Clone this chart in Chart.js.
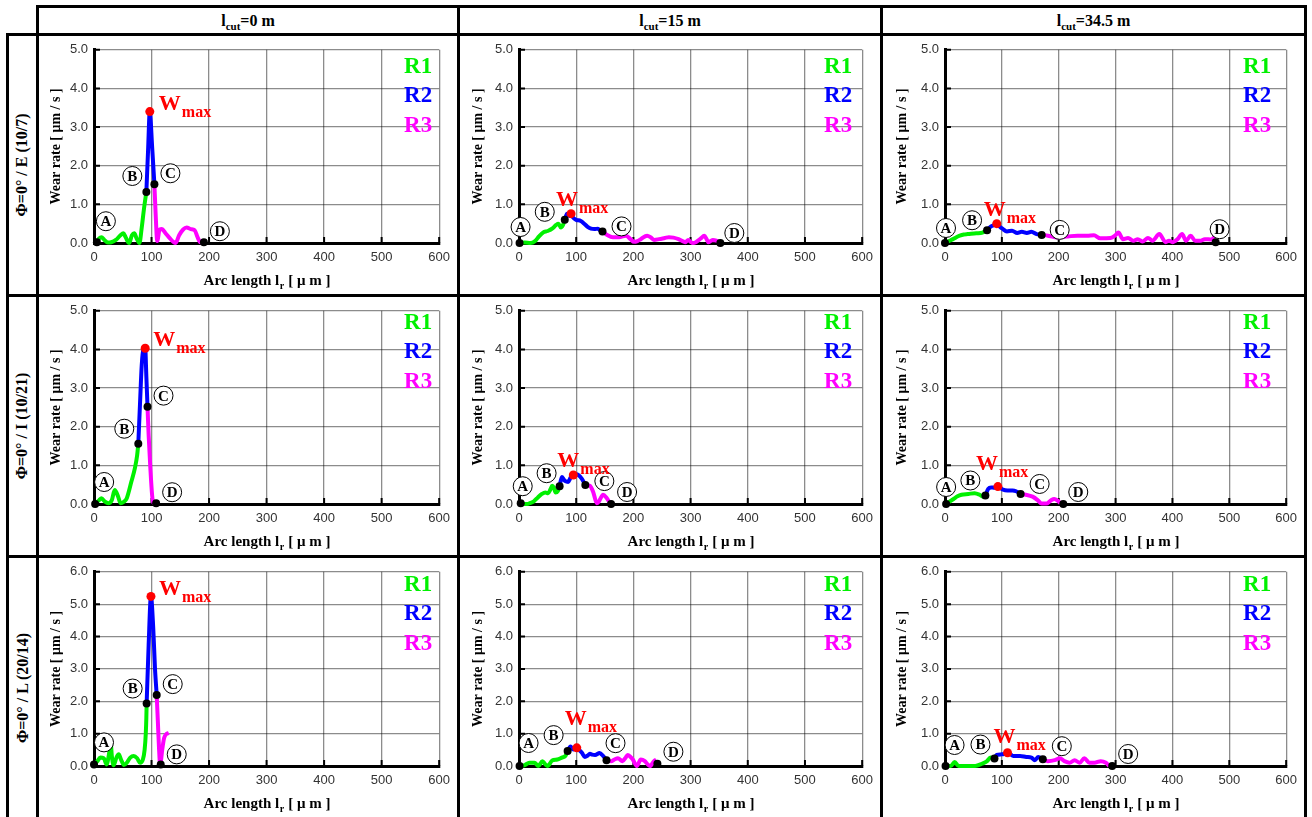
<!DOCTYPE html>
<html>
<head>
<meta charset="utf-8">
<script src="https://cdn.jsdelivr.net/npm/chart.js@4.4.0/dist/chart.umd.min.js"></script>
<style>
  body { margin: 0; background: #fff; width: 1312px; height: 817px; position: relative; overflow: hidden; font-family: 'Liberation Serif', 'Times New Roman', serif; }
  canvas { position: absolute; }
  .ln { position: absolute; background: #000; z-index: 5; }
  .hd { position: absolute; top: 8px; height: 25px; line-height: 25px; text-align: center; font-weight: bold; font-size: 16px; }
  .hd sub { font-size: 11px; vertical-align: -4px; line-height: 0; }
  .rh { position: absolute; height: 28px; line-height: 28px; text-align: center; font-weight: bold; font-size: 16px; transform: rotate(-90deg); white-space: nowrap; }
</style>
</head>
<body>
<script>
// axis / label text
const xTicks = [0, 100, 200, 300, 400, 500, 600];
const yMaxByRow = [5, 5, 6];
const colCut = ['0', '15', '34.5'];
const rowNames = ['Φ=0° / E (10/7)', 'Φ=0° / I (10/21)', 'Φ=0° / L (20/14)'];
const pointNames = ['A', 'B', 'C', 'D'];
const legendNames = ['R1', 'R2', 'R3'];

// --- row E (10/7) ---
const E0_r1 = [[5,0.02],[9,0.12],[13,0.15],[18,0.08],[24,0.01],[30,0.02],[38,0.08],[46,0.2],[51,0.25],[55,0.15],[61,0.0],[66,0.2],[70,0.25],[74,0.12],[79,0.0],[83,0.4],[87,0.9],[91,1.32]];
const E0_r2 = [[91,1.32],[94,2.4],[97,3.4],[101,2.5],[105,1.52]];
const E0_r3 = [[105,1.52],[107,0.8],[110,0.05],[114,0.35],[118,0.36],[124,0.26],[132,0.12],[138,0.03],[142,0.0],[148,0.2],[155,0.35],[161,0.4],[168,0.36],[175,0.33],[180,0.15],[185,0.02],[191,0.02]];
const E0_pts = [[5,0.02],[91,1.32],[105,1.52],[191,0.02]];
const E0_wmax = [97,3.4];

const E15_r1 = [[1,0],[10,0.01],[20,0.0],[28,0.05],[35,0.17],[42,0.27],[50,0.31],[58,0.37],[65,0.47],[69,0.5],[73,0.4],[77,0.47],[80,0.6]];
const E15_r2 = [[80,0.6],[84,0.76],[88,0.7],[91,0.76],[95,0.65],[100,0.6],[108,0.57],[114,0.5],[120,0.42],[126,0.37],[132,0.36],[138,0.37],[142,0.32],[146,0.3]];
const E15_r3 = [[146,0.3],[155,0.2],[164,0.15],[175,0.15],[187,0.19],[195,0.1],[201,0.03],[207,0.05],[213,0.1],[224,0.19],[230,0.15],[236,0.08],[245,0.1],[255,0.13],[262,0.15],[270,0.14],[279,0.1],[286,0.05],[291,0.02],[296,0.08],[300,0.03],[304,0.0],[309,0.02],[313,0.06],[318,0.12],[324,0.19],[328,0.1],[331,0.02],[335,0.05],[339,0.08],[345,0.06],[350,0.02]];
const E15_pts = [[1,0],[80,0.6],[146,0.3],[352,0]];
const E15_wmax = [91,0.76];

const E345_r1 = [[0,0],[7,0.05],[14,0.1],[20,0.15],[26,0.19],[33,0.22],[40,0.23],[55,0.25],[66,0.27],[74,0.33]];
const E345_r2 = [[74,0.33],[81,0.43],[86,0.46],[91,0.5],[96,0.43],[101,0.37],[109,0.3],[118,0.32],[127,0.26],[135,0.29],[144,0.26],[152,0.29],[161,0.23],[170,0.21]];
const E345_r3 = [[170,0.21],[181,0.19],[190,0.16],[199,0.14],[208,0.16],[216,0.17],[233,0.19],[250,0.19],[262,0.2],[273,0.12],[291,0.13],[299,0.19],[305,0.27],[313,0.1],[322,0.13],[331,0.06],[339,0.1],[348,0.04],[357,0.13],[365,0.06],[377,0.23],[388,0.02],[394,0.06],[400,0.02],[409,0.1],[417,0.23],[424,0.06],[432,0.19],[440,0.06],[449,0.06],[457,0.1],[469,0.09],[475,0.19]];
const E345_pts = [[0,0],[74,0.33],[170,0.21],[476,0.02]];
const E345_wmax = [91,0.5];

// --- row I (10/21) ---
const I0_r1 = [[2,0],[9,0.1],[13,0.15],[19,0.06],[25,0.02],[31,0.1],[36,0.36],[42,0.19],[46,0.02],[52,0.06],[57,0.15],[65,0.58],[71,0.92],[75,1.26],[77,1.56]];
const I0_r2 = [[77,1.56],[80,2.6],[83,3.6],[86,4.0],[89,4.03],[91,3.3],[93,2.52]];
const I0_r3 = [[93,2.52],[95,1.78],[98,0.92],[101,0.23],[103,0.03],[106,0.02]];
const I0_pts = [[2,0],[77,1.56],[93,2.52],[108,0.02]];
const I0_wmax = [89,4.03];

const I15_r1 = [[3,0.02],[8,0.0],[14,0.0],[20,0.03],[26,0.07],[33,0.17],[40,0.26],[46,0.3],[51,0.28],[55,0.38],[58,0.47],[61,0.42],[64,0.3],[68,0.34],[71,0.46]];
const I15_r2 = [[71,0.46],[75,0.7],[78,0.64],[81,0.59],[86,0.57],[90,0.68],[95,0.75],[100,0.77],[104,0.75],[110,0.65],[116,0.49]];
const I15_r3 = [[116,0.49],[124,0.47],[130,0.3],[136,0.02],[139,0.05],[142,0.13],[147,0.24],[153,0.16],[159,0.02]];
const I15_pts = [[3,0.02],[71,0.46],[116,0.49],[161,0]];
const I15_wmax = [95,0.75];

const I345_r1 = [[2,0],[8,0.06],[15,0.13],[22,0.2],[29,0.24],[41,0.26],[52,0.28],[61,0.24],[67,0.19],[71,0.22]];
const I345_r2 = [[71,0.22],[76,0.39],[81,0.43],[87,0.42],[93,0.45],[102,0.37],[110,0.35],[119,0.35],[125,0.33],[133,0.26]];
const I345_r3 = [[133,0.26],[142,0.24],[154,0.19],[163,0.1],[170,0.01],[178,0.01],[186,0.09],[192,0.13],[198,0.09],[203,0.02]];
const I345_pts = [[2,0],[71,0.22],[133,0.26],[208,0]];
const I345_wmax = [93,0.45];

// --- row L (20/14) ---
const L0_r1 = [[0,0.05],[6,0.15],[11,0.26],[17,0.24],[22,0.05],[26,0.36],[29,0.72],[31,0.31],[34,0.02],[39,0.26],[43,0.36],[47,0.2],[52,0.03],[57,0.1],[63,0.26],[69,0.31],[75,0.24],[80,0.1],[85,0.2],[88,0.5],[90,1.0],[91,1.5],[91.5,1.93]];
const L0_r2 = [[91.5,1.93],[95,3.74],[99,5.24],[103,4.25],[106,3.02],[109,2.19]];
const L0_r3 = [[109,2.19],[111,1.38],[113,0.56],[115,0.05],[119,0.56],[122,0.87],[126,0.99],[130,1.02]];
const L0_pts = [[0,0.05],[91.5,1.93],[109,2.19],[116,0.05]];
const L0_wmax = [99,5.24];

const L15_r1 = [[1,0],[10,0.03],[18,0.1],[23,0.1],[27,0.1],[34,0.0],[41,0.15],[46,0.05],[50,0.0],[58,0.17],[67,0.2],[75,0.26],[81,0.31],[85,0.46]];
const L15_r2 = [[85,0.46],[90,0.6],[95,0.51],[101,0.56],[105,0.5],[110,0.41],[115,0.28],[120,0.32],[124,0.38],[128,0.35],[133,0.34],[141,0.4],[147,0.31],[153,0.18]];
const L15_r3 = [[153,0.18],[161,0.15],[167,0.2],[173,0.24],[181,0.15],[186,0.25],[190,0.34],[195,0.28],[199,0.2],[206,0.0],[213,0.2],[220,0.15],[225,0.05],[229,0.0],[236,0.15],[240,0.2]];
const L15_pts = [[1,0],[85,0.46],[153,0.18],[242,0.07]];
const L15_wmax = [101,0.56];

const L345_r1 = [[1,0],[10,0],[17,0.12],[24,0],[39,0],[53,0],[65,0.07],[74,0.15],[80,0.26],[87,0.23]];
const L345_r2 = [[87,0.23],[91,0.34],[100,0.36],[110,0.41],[120,0.31],[132,0.31],[143,0.28],[152,0.26],[158,0.18],[164,0.28],[172,0.21]];
const L345_r3 = [[172,0.21],[181,0.15],[193,0.18],[202,0.24],[210,0.15],[219,0.1],[228,0.18],[237,0.1],[245,0.24],[254,0.1],[263,0.1],[274,0.15],[283,0.1],[289,0]];
const L345_pts = [[1,0],[87,0.23],[172,0.21],[294,0]];
const L345_wmax = [110,0.41];

// layout (pixels)
const colLeft = [39, 460, 883], colRight = [457, 880, 1304];
const rowTop = [36, 297, 558], rowBottom = [294, 555, 817];
const plotLeft = [94, 519, 945], plotW = 348;
const plotTop = [48, 310, 571], plotBottom = [243, 504, 766];
const yTitleGap = [38, 41, 43];
const legendRight = [7, 10, 15];
const legendTop = [17, 12, 13];

const GREEN = '#00f000', BLUE = '#0000ff', MAGENTA = '#ff00ff', RED = '#ff0000';
const SERIF = "'Liberation Serif', 'Times New Roman', serif";
const SANS = "'Liberation Sans', Arial, sans-serif";

// label offsets from each marked point: A, B, C, D, then W_max text
const panels = [
  { row: 0, col: 0, r1: E0_r1, r2: E0_r2, r3: E0_r3, pts: E0_pts, wmax: E0_wmax, lab: [[9,-21],[-14,-16],[16,-11],[16,-11]], w: [9,-2] },
  { row: 0, col: 1, r1: E15_r1, r2: E15_r2, r3: E15_r3, pts: E15_pts, wmax: E15_wmax, lab: [[1,-16],[-20,-8],[19,-5],[14,-10]], w: [-15,-8] },
  { row: 0, col: 2, r1: E345_r1, r2: E345_r2, r3: E345_r3, pts: E345_pts, wmax: E345_wmax, lab: [[1,-15],[-15,-10],[18,-5],[4,-13]], w: [-13,-8] },
  { row: 1, col: 0, r1: I0_r1, r2: I0_r2, r3: I0_r3, pts: I0_pts, wmax: I0_wmax, lab: [[9,-22],[-14,-15],[16,-11],[16,-11]], w: [8,-2] },
  { row: 1, col: 1, r1: I15_r1, r2: I15_r2, r3: I15_r3, pts: I15_pts, wmax: I15_wmax, lab: [[2,-17],[-13,-13],[19,-4],[16,-12]], w: [-16,-8] },
  { row: 1, col: 2, r1: I345_r1, r2: I345_r2, r3: I345_r3, pts: I345_pts, wmax: I345_wmax, lab: [[0,-17],[-15,-15],[19,-10],[15,-12]], w: [-22,-17] },
  { row: 2, col: 0, r1: L0_r1, r2: L0_r2, r3: L0_r3, pts: L0_pts, wmax: L0_wmax, lab: [[10,-22],[-14,-15],[16,-11],[16,-10]], w: [8,-1] },
  { row: 2, col: 1, r1: L15_r1, r2: L15_r2, r3: L15_r3, pts: L15_pts, wmax: L15_wmax, lab: [[9,-23],[-14,-16],[9,-17],[16,-12]], w: [-12,-23] },
  { row: 2, col: 2, r1: L345_r1, r2: L345_r2, r3: L345_r3, pts: L345_pts, wmax: L345_wmax, lab: [[9,-21],[-14,-14],[19,-13],[16,-12]], w: [-14,-10] },
];

const toXY = arr => arr.map(d => ({ x: d[0], y: d[1] }));

// table frame
function addLine(l, t, w, h) {
  const d = document.createElement('div');
  d.className = 'ln';
  Object.assign(d.style, { left: l + 'px', top: t + 'px', width: w + 'px', height: h + 'px' });
  document.body.appendChild(d);
}
addLine(36, 5, 1271, 3);
addLine(6, 33, 1301, 3);
addLine(6, 294, 1301, 3);
addLine(6, 555, 1301, 3);
addLine(6, 33, 3, 784);
[36, 457, 880, 1304].forEach(x => addLine(x, 5, 3, 812));

colCut.forEach((cut, i) => {
  const d = document.createElement('div');
  d.className = 'hd';
  d.style.left = colLeft[i] + 'px';
  d.style.width = (colRight[i] - colLeft[i]) + 'px';
  d.innerHTML = 'l<sub>cut</sub>=' + cut + ' m';
  document.body.appendChild(d);
});

rowNames.forEach((name, i) => {
  const d = document.createElement('div');
  d.className = 'rh';
  const len = rowBottom[i] - rowTop[i];
  const cy = (rowTop[i] + rowBottom[i]) / 2;
  d.style.width = len + 'px';
  d.style.left = (22 - len / 2) + 'px';
  d.style.top = (cy - 14) + 'px';
  d.textContent = name;
  document.body.appendChild(d);
});

const decor = {
  id: 'decor',
  beforeDatasetsDraw(chart, args, opts) {
    const { ctx, chartArea: a, scales } = chart;
    ctx.save();
    ctx.strokeStyle = '#000';
    ctx.lineWidth = 2;
    ctx.beginPath();
    for (let v = 0; v <= opts.yMax; v++) {
      const y = scales.y.getPixelForValue(v);
      ctx.moveTo(a.left, y); ctx.lineTo(a.left + 6, y);
    }
    xTicks.forEach(v => {
      const x = scales.x.getPixelForValue(v);
      ctx.moveTo(x, a.bottom); ctx.lineTo(x, a.bottom - 6);
    });
    ctx.stroke();
    ctx.restore();
  },
  afterDatasetsDraw(chart, args, opts) {
    const { ctx, chartArea: a, scales } = chart;
    const p = opts.panel;
    ctx.save();
    // circled point names
    p.pts.forEach((pt, i) => {
      const cx = scales.x.getPixelForValue(pt[0]) + p.lab[i][0];
      const cy = scales.y.getPixelForValue(pt[1]) + p.lab[i][1];
      ctx.beginPath();
      ctx.arc(cx, cy, 9.5, 0, Math.PI * 2);
      ctx.fillStyle = '#fff';
      ctx.fill();
      ctx.lineWidth = 1;
      ctx.strokeStyle = '#000';
      ctx.stroke();
      ctx.fillStyle = '#000';
      ctx.font = 'bold 15px ' + SERIF;
      ctx.textAlign = 'center';
      ctx.textBaseline = 'middle';
      ctx.fillText(pointNames[i], cx, cy + 1);
    });
    // W_max
    const wx = scales.x.getPixelForValue(p.wmax[0]) + p.w[0];
    const wy = scales.y.getPixelForValue(p.wmax[1]) + p.w[1];
    ctx.fillStyle = RED;
    ctx.textAlign = 'left';
    ctx.textBaseline = 'alphabetic';
    ctx.font = 'bold 22px ' + SERIF;
    ctx.fillText('W', wx, wy);
    const ww = ctx.measureText('W').width;
    ctx.font = 'bold 16px ' + SERIF;
    ctx.fillText('max', wx + ww + 1, wy + 7);
    // R1/R2/R3
    ctx.font = 'bold 23px ' + SERIF;
    ctx.textAlign = 'right';
    ctx.textBaseline = 'middle';
    [GREEN, BLUE, MAGENTA].forEach((c, i) => {
      ctx.fillStyle = c;
      ctx.fillText(legendNames[i], a.right - legendRight[p.col], a.top + legendTop[p.row] + i * 29.5);
    });
    // axis titles
    ctx.fillStyle = '#000';
    ctx.save();
    ctx.translate(a.left - yTitleGap[p.col], (a.top + a.bottom) / 2);
    ctx.rotate(-Math.PI / 2);
    ctx.font = 'bold 14px ' + SERIF;
    ctx.textAlign = 'center';
    ctx.fillText('Wear rate [ μm / s ]', 0, 0);
    ctx.restore();
    ctx.textAlign = 'left';
    ctx.textBaseline = 'alphabetic';
    const big = 'bold 15px ' + SERIF, small = 'bold 10px ' + SERIF;
    const t1 = 'Arc length l', t2 = 'r', t3 = ' [ μ m ]';
    ctx.font = big; const w1 = ctx.measureText(t1).width, w3 = ctx.measureText(t3).width;
    ctx.font = small; const w2 = ctx.measureText(t2).width;
    let x0 = (a.left + a.right) / 2 - (w1 + w2 + w3) / 2;
    const by = a.bottom + 42;
    ctx.font = big; ctx.fillText(t1, x0, by);
    ctx.font = small; ctx.fillText(t2, x0 + w1 + 0.5, by + 4);
    ctx.font = big; ctx.fillText(t3, x0 + w1 + w2 + 1, by);
    ctx.restore();
  }
};

panels.forEach(p => {
  const c = document.createElement('canvas');
  const left = colLeft[p.col], top = rowTop[p.row];
  const w = colRight[p.col] - left, h = rowBottom[p.row] - top;
  c.width = w; c.height = h;
  c.style.left = left + 'px';
  c.style.top = top + 'px';
  document.body.appendChild(c);

  const yAxisW = plotLeft[p.col] - left;
  const xAxisH = h - (plotBottom[p.row] - top);
  const line = (d, color) => ({
    data: toXY(d), borderColor: color, borderWidth: 4, pointRadius: 0,
    cubicInterpolationMode: 'monotone', fill: false, order: 1, clip: false
  });
  const yMax = yMaxByRow[p.row];

  new Chart(c, {
    type: 'line',
    data: {
      datasets: [
        line(p.r1, GREEN), line(p.r2, BLUE), line(p.r3, MAGENTA),
        { data: toXY(p.pts), showLine: false, pointRadius: 4, pointBackgroundColor: '#000', pointBorderWidth: 0, order: 0, clip: false },
        { data: toXY([p.wmax]), showLine: false, pointRadius: 4.5, pointBackgroundColor: RED, pointBorderWidth: 0, order: 0, clip: false }
      ]
    },
    options: {
      responsive: false,
      animation: false,
      events: [],
      layout: { padding: { left: 0, top: plotTop[p.row] - top, right: w - (yAxisW + plotW), bottom: 0 } },
      scales: {
        x: {
          type: 'linear', min: 0, max: 600,
          afterFit: s => { s.height = xAxisH; },
          grid: { color: 'rgba(0,0,0,0.45)', lineWidth: 1.3, drawTicks: false },
          border: { color: '#000', width: 3 },
          ticks: { stepSize: 100, padding: 7, color: '#333', font: { family: SANS, size: 13 } }
        },
        y: {
          min: 0, max: yMax,
          afterFit: s => { s.width = yAxisW; },
          grid: { color: 'rgba(0,0,0,0.45)', lineWidth: 1.3, drawTicks: false },
          border: { color: '#000', width: 3 },
          ticks: { stepSize: 1, padding: 6, color: '#333', font: { family: SANS, size: 13 }, callback: v => v.toFixed(1) }
        }
      },
      plugins: {
        legend: { display: false },
        tooltip: { enabled: false },
        decor: { panel: p, yMax: yMax }
      }
    },
    plugins: [decor]
  });
});
</script>
</body>
</html>
